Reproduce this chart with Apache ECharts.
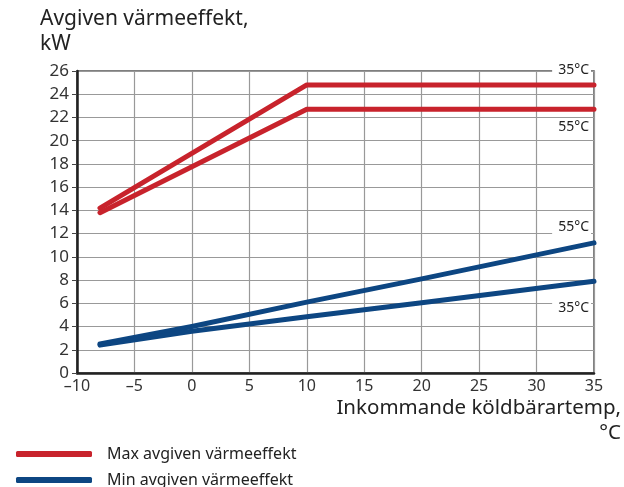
<!DOCTYPE html>
<html><head><meta charset="utf-8">
<script src="https://cdn.jsdelivr.net/npm/echarts@6/dist/echarts.min.js"></script>
<style>html,body{margin:0;padding:0;background:#fff}#c{width:624px;height:487px}</style>
</head><body><div id="c"></div>
<script>
// Data
const xTicks = [-10, -5, 0, 5, 10, 15, 20, 25, 30, 35];
const maxX = [-8, 10, 35];
const max35 = [14.2, 24.8, 24.8];
const max55 = [13.8, 22.7, 22.7];
const minX = [-8, 0, 10, 20, 35];
const min55 = [2.5, 4.0, 6.1, 8.1, 11.2];
const min35 = [2.4, 3.6, 4.85, 6.05, 7.9];
const seriesNames = ['Max avgiven värmeeffekt', 'Min avgiven värmeeffekt'];
const noteTexts = ['35°C', '55°C', '55°C', '35°C'];
const noteY = [26.1, 21.2, 12.6, 5.6];

const RED = '#c8232c', BLUE = '#0d4682';
const FONT = '"Noto Sans"';
const zip = (xs, ys) => xs.map((x, i) => [x, ys[i]]);
const lineSeries = (name, color, data) => ({
  name, type: 'line', data, symbol: 'none', color,
  lineStyle: { width: 5, color, cap: 'round', join: 'round' }, z: 5
});

const chart = echarts.init(document.getElementById('c'));
chart.setOption({
  animation: false,
  textStyle: { fontFamily: FONT },
  grid: { left: 77, right: 30, top: 71, bottom: 114, show: true, borderColor: '#555', borderWidth: 1.5, backgroundColor: 'transparent' },
  xAxis: {
    type: 'value', min: -10, max: 35, interval: 5,
    axisLine: { show: true, onZero: false, lineStyle: { color: '#222', width: 2.5 } },
    axisTick: { show: false },
    axisLabel: { fontFamily: FONT, fontSize: 16, color: '#333', margin: 5,
      formatter: v => String(v).replace('-', '–') },
    splitLine: { show: true, lineStyle: { color: '#999', width: 1.2 } }
  },
  yAxis: {
    type: 'value', min: 0, max: 26, interval: 2,
    axisLine: { show: true, onZero: false, lineStyle: { color: '#222', width: 2.5 } },
    axisTick: { show: true, length: 5, lineStyle: { color: '#444', width: 1 } },
    axisLabel: { fontFamily: FONT, fontSize: 17, color: '#333', margin: 8 },
    splitLine: { show: true, lineStyle: { color: '#999', width: 1.2 } }
  },
  legend: {
    orient: 'vertical', left: 16, top: 446, padding: 0, height: 60, itemWidth: 76, itemHeight: 6,
    icon: 'roundRect', itemGap: 10, data: seriesNames,
    textStyle: { fontFamily: FONT, fontSize: 16, color: '#222', padding: [0, 0, 0, 10] }
  },
  series: [
    lineSeries(seriesNames[0], RED, zip(maxX, max35)),
    lineSeries(seriesNames[0], RED, zip(maxX, max55)),
    lineSeries(seriesNames[1], BLUE, zip(minX, min55)),
    lineSeries(seriesNames[1], BLUE, zip(minX, min35))
  ]
});

const right = chart.convertToPixel({ gridIndex: 0 }, [35, 0])[0];
const graphics = noteTexts.map((t, i) => {
  const y = chart.convertToPixel({ gridIndex: 0 }, [35, noteY[i]])[1];
  return { type: 'text', z: 100, x: right - 3, y,
    style: { text: t, textAlign: 'right', textVerticalAlign: 'middle',
      font: '14px ' + FONT, fill: '#222', backgroundColor: '#fff', padding: [1, 2, 1, 6] } };
});
graphics.push({ type: 'text', z: 100, x: 40, y: 7,
  style: { text: 'Avgiven värmeeffekt,\nkW', font: '21px ' + FONT, fill: '#222', lineHeight: 25 } });
graphics.push({ type: 'text', z: 100, x: 621, y: 396,
  style: { text: 'Inkommande köldbärartemp,\n°C', textAlign: 'right', font: '20.5px ' + FONT, fill: '#222', lineHeight: 25 } });
chart.setOption({ graphic: graphics });
</script></body></html>
